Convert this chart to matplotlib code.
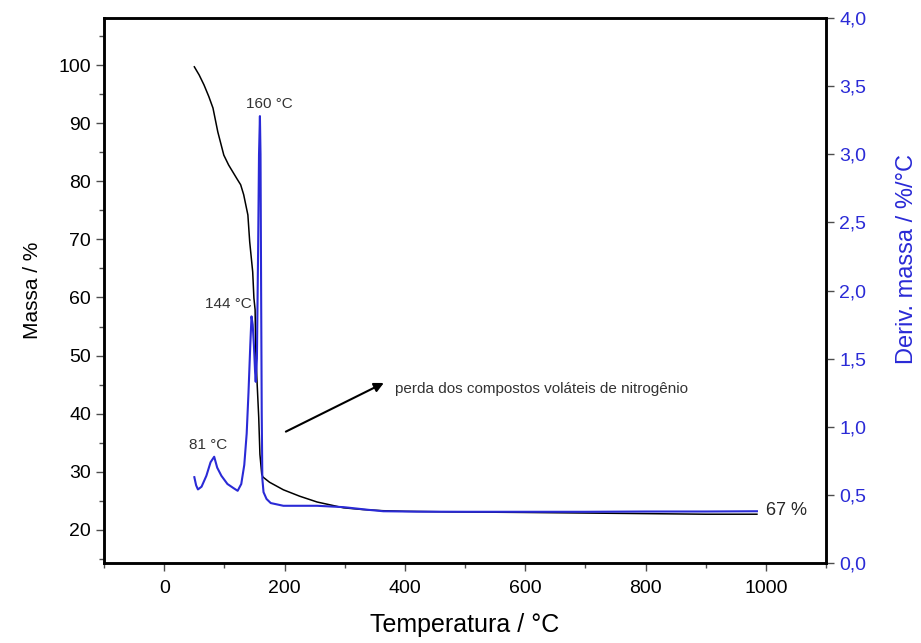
import matplotlib
matplotlib.use('Agg')
import matplotlib.pyplot as plt
from matplotlib.ticker import MultipleLocator, FuncFormatter

plt.rcParams['font.family'] = ['Liberation Sans', 'DejaVu Sans']

# TG curve (mass %)
temp_tg = [50, 58, 66, 74, 81, 89, 99, 107, 114, 121, 127, 132, 139, 142, 147, 149,
           151, 152, 154, 157, 159, 162, 164, 175, 198, 225, 254, 298, 330, 364,
           400, 474, 600, 700, 800, 900, 985]
mass = [99.7, 98.3, 96.6, 94.6, 92.6, 88.5, 84.5, 82.8, 81.6, 80.4, 79.4, 77.7, 74.2,
        69.6, 64.4, 59.9, 57.9, 51, 46, 39.4, 33, 29.6, 29.1, 28.2, 26.9, 25.8, 24.8,
        23.8, 23.5, 23.3, 23.2, 23.1, 23.0, 22.9, 22.8, 22.7, 22.7]

# DTG curve (%/°C)
temp_dtg = [50, 53, 56, 62, 70, 77, 83, 88, 95, 105, 115, 122, 128, 133, 137, 140,
            143, 145, 147, 149, 151, 152, 154, 156, 157.5, 159, 160, 161, 162, 163,
            165, 170, 177, 198, 254, 298, 340, 364, 420, 500, 600, 700, 800, 900, 985]
deriv = [0.63, 0.57, 0.54, 0.56, 0.64, 0.74, 0.78, 0.70, 0.64, 0.58, 0.55, 0.53, 0.58,
         0.72, 0.95, 1.25, 1.6, 1.81, 1.75, 1.6, 1.4, 1.33, 1.5, 2.3, 3.0, 3.28, 3.0,
         2.0, 1.1, 0.62, 0.52, 0.47, 0.44, 0.42, 0.42, 0.41, 0.39, 0.38, 0.377, 0.376,
         0.376, 0.376, 0.378, 0.378, 0.38]

blue = '#2a2ad6'

fig = plt.figure(figsize=(9.21, 6.43), dpi=100)
ax = fig.add_axes([0.113, 0.1244, 0.784, 0.8476])
ax2 = ax.twinx()

ax.plot(temp_tg, mass, color='black', lw=1.1)
ax2.plot(temp_dtg, deriv, color=blue, lw=1.5)

ax.set_xlim(-100, 1100)
ax.set_ylim(14.3, 108.1)
ax2.set_ylim(0, 4.0)

ax.xaxis.set_major_locator(MultipleLocator(200))
ax.xaxis.set_minor_locator(MultipleLocator(100))
ax.yaxis.set_minor_locator(MultipleLocator(5))
ax.set_yticks(range(20, 101, 10))
ax2.yaxis.set_major_locator(MultipleLocator(0.5))
ax2.yaxis.set_major_formatter(FuncFormatter(lambda v, p: f'{v:.1f}'.replace('.', ',')))

ax.tick_params(which='major', direction='out', length=6, width=1, labelsize=14, color='0.3')
ax.tick_params(which='minor', direction='out', length=3.5, width=1, color='0.3')
ax.tick_params(axis='x', pad=6)
ax2.tick_params(direction='out', length=6, width=1, labelsize=14, labelcolor=blue, color='0.3')

for a in (ax, ax2):
    for s in a.spines.values():
        s.set_linewidth(1.8)

ax.set_xlabel('Temperatura / °C', fontsize=18, labelpad=12)
ax.set_ylabel('Massa / %', fontsize=15)
ax.yaxis.set_label_coords(-0.086, 0.5)
ax2.set_ylabel('Deriv. massa / %/°C', fontsize=17, color=blue)
ax2.yaxis.set_label_coords(1.097, 0.558)

ax.text(175, 93.3, '160 °C', fontsize=11, ha='center', va='center', color='0.2')
ax.text(107, 58.8, '144 °C', fontsize=11, ha='center', va='center', color='0.2')
ax.text(73, 34.6, '81 °C', fontsize=11, ha='center', va='center', color='0.2')
ax.text(1000, 23.4, '67 %', fontsize=13, ha='left', va='center', color='0.15')
ax.annotate('', xy=(369, 45.5), xytext=(198, 36.7),
            arrowprops=dict(arrowstyle='-|>', color='black', lw=1.5, mutation_scale=14))
ax.text(383, 44.3, 'perda dos compostos voláteis de nitrogênio', fontsize=11,
        ha='left', va='center', color='0.2')

fig.savefig('out.png', dpi=100)
